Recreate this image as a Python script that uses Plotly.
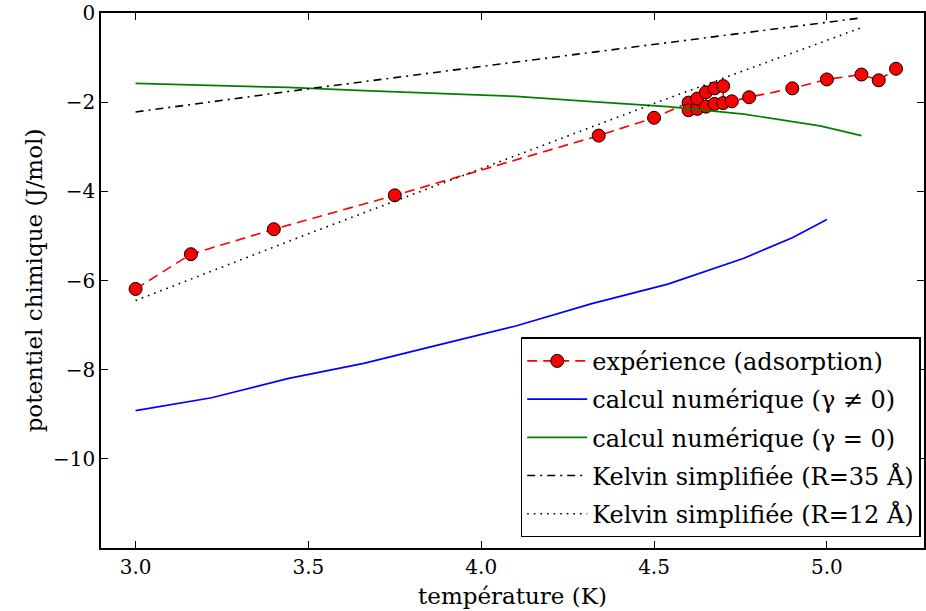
import plotly.graph_objects as go

# Temperature (K) and chemical potential (J/mol) series
exp_T = [3.00, 3.16, 3.40, 3.75, 4.34, 4.50,
         4.60, 4.60, 4.625, 4.625, 4.65, 4.65, 4.675, 4.675, 4.70, 4.70,
         4.725, 4.775, 4.90, 5.00, 5.10, 5.15, 5.20]
exp_mu = [-6.19, -5.41, -4.85, -4.09, -2.75, -2.35,
          -2.01, -2.18, -2.15, -1.92, -1.78, -2.10, -2.04, -1.69, -1.64, -2.02,
          -1.98, -1.89, -1.69, -1.49, -1.38, -1.51, -1.25]

num_T = [3.00, 3.22, 3.44, 3.66, 3.88, 4.10, 4.32, 4.54, 4.76, 4.90, 5.00]
num_mu_gamma = [-8.92, -8.63, -8.20, -7.86, -7.44, -7.02, -6.52, -6.08, -5.50, -5.04, -4.63]

num0_T = [3.00, 3.22, 3.44, 3.66, 3.88, 4.10, 4.32, 4.54, 4.76, 4.98, 5.10]
num0_mu = [-1.58, -1.62, -1.67, -1.74, -1.80, -1.87, -1.99, -2.10, -2.27, -2.53, -2.75]

kelvin_T = [3.0, 3.5, 4.0, 4.5, 5.1]
kelvin35_mu = [-2.22, -1.70, -1.20, -0.70, -0.11]
kelvin12_mu = [-6.45, -4.95, -3.49, -2.03, -0.33]

x_ticks = [3.0, 3.5, 4.0, 4.5, 5.0]
y_ticks = [0, -2, -4, -6, -8, -10]

FONT = "DejaVu Serif"

fig = go.Figure()
fig.add_trace(go.Scatter(
    x=exp_T, y=exp_mu, mode="lines+markers", name="expérience (adsorption)",
    legendgroup="a",
    line=dict(color="#ff0000", width=1.6, dash="10px,6px"),
    marker=dict(color="#ff0000", size=13, line=dict(color="black", width=1)),
))
fig.add_trace(go.Scatter(
    x=num_T, y=num_mu_gamma, mode="lines", name="calcul numérique (γ ≠ 0)",
    legendgroup="b", line=dict(color="#0000ff", width=1.7),
))
fig.add_trace(go.Scatter(
    x=num0_T, y=num0_mu, mode="lines", name="calcul numérique (γ = 0)",
    legendgroup="c", line=dict(color="#008000", width=1.7),
))
fig.add_trace(go.Scatter(
    x=kelvin_T, y=kelvin35_mu, mode="lines", name="Kelvin simplifiée (R=35 Å)",
    legendgroup="d", line=dict(color="black", width=1.6, dash="8px,5px,2px,5px"),
))
fig.add_trace(go.Scatter(
    x=kelvin_T, y=kelvin12_mu, mode="lines", name="Kelvin simplifiée (R=12 Å)",
    legendgroup="e", line=dict(color="black", width=1.6, dash="1.6px,5px"),
))

axis_common = dict(
    showgrid=False, zeroline=False, showline=True, linecolor="black", linewidth=1.5,
    mirror="ticks", ticks="inside", ticklen=7, tickwidth=1, tickcolor="black",
    tickfont=dict(family=FONT, size=20, color="black"),
)

fig.update_layout(
    width=926, height=611,
    margin=dict(l=101, r=0, t=13, b=63),
    paper_bgcolor="white", plot_bgcolor="white",
    font=dict(family=FONT, color="black"),
    xaxis=dict(range=[2.9, 5.281], tickvals=x_ticks, ticktext=[f"{v:.1f}" for v in x_ticks],
               title=dict(text="température (K)", font=dict(family=FONT, size=23), standoff=10),
               **axis_common),
    yaxis=dict(range=[-12, 0], tickvals=y_ticks,
               title=dict(text="potentiel chimique (J/mol)", font=dict(family=FONT, size=23), standoff=4),
               **axis_common),
    legend=dict(
        x=0.996, y=0.02, xanchor="right", yanchor="bottom",
        bgcolor="white", bordercolor="black", borderwidth=1.5,
        font=dict(family=FONT, size=24, color="black"),
        tracegroupgap=4, itemwidth=60,
    ),
    showlegend=True,
)

fig.write_html("out.html")
